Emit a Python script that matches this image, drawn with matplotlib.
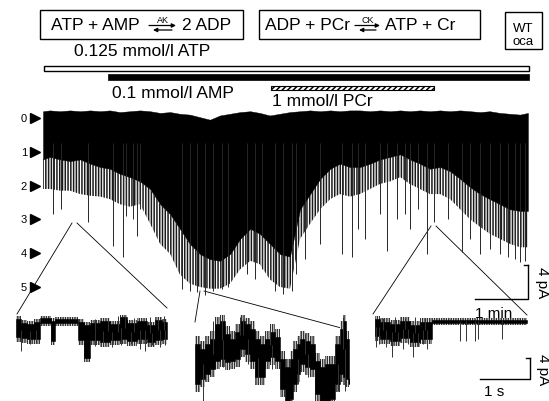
"""
KATP single-channel recording (WT oca): ATP + AMP / PCr application,
with three expanded stretches of the trace below.
Output: out.png
"""

import numpy as np
import matplotlib.pyplot as plt
from matplotlib.patches import Rectangle

plt.rcParams["font.family"] = ["Liberation Sans", "DejaVu Sans"]
plt.rcParams["hatch.linewidth"] = 1.1

W, H = 549, 402

# ── solution bars (time in min) ───────────────────────────────────────────────
sol_labels = ["0.125 mmol/l ATP", "0.1 mmol/l AMP", "1 mmol/l PCr"]
sol_start = [0.02, 1.23, 4.30]
sol_end = [9.17, 9.17, 7.38]

# ── main trace (time in min, current in pA, 0 = all channels closed) ─────────
t_main = [0.00, 0.13, 0.32, 0.51, 0.70, 0.89, 1.08, 1.26, 1.45, 1.64,
          1.83, 2.02, 2.21, 2.40, 2.58, 2.77, 2.96, 3.15, 3.34, 3.53,
          3.72, 3.91, 4.09, 4.28, 4.47, 4.66, 4.85, 5.04, 5.23, 5.42,
          5.60, 5.79, 5.98, 6.17, 6.36, 6.55, 6.74, 6.92, 7.11, 7.30,
          7.49, 7.68, 7.87, 8.06, 8.25, 8.43, 8.62, 8.81, 9.00, 9.15]
top_main = [0.8, 0.9, 0.8, 0.9, 0.8, 0.9, 0.8, 0.9, 0.7, 0.8,
            0.9, 0.8, 0.6, 0.7, 0.5, 0.4, 0.1, -0.2, 0.3, 0.5,
            0.7, 0.8, 0.6, 0.3, 0.5, 0.7, 0.8, 0.9, 0.8, 0.9,
            0.8, 0.9, 0.9, 0.8, 0.9, 0.8, 0.9, 0.8, 0.9, 0.8,
            0.9, 0.8, 0.9, 0.8, 0.7, 0.8, 0.6, 0.5, 0.4, 0.6]
# solid black part
core_main = [-4.9, -4.6, -4.9, -5.1, -4.9, -5.4, -5.8, -6.0, -6.6, -7.0,
             -7.5, -8.4, -10.2, -11.4, -13.1, -14.9, -16.1, -16.7, -16.9, -16.1,
             -14.3, -13.1, -13.7, -14.9, -16.1, -16.4, -10.8, -9.0, -7.2, -6.0,
             -5.4, -5.8, -5.8, -5.4, -4.9, -4.6, -4.3, -4.9, -5.4, -6.0,
             -5.8, -6.3, -7.2, -8.2, -9.0, -9.6, -10.2, -10.8, -11.0, -11.0]
# comb of openings below the solid part
fringe_main = [-8.4, -8.4, -8.6, -8.6, -9.0, -9.2, -9.3, -9.6, -10.2, -10.5,
               -10.2, -12.5, -14.9, -16.1, -18.5, -19.6, -20.0, -20.2, -20.2, -19.6,
               -17.9, -16.9, -17.3, -19.1, -20.0, -20.2, -14.3, -12.5, -10.8, -9.6,
               -9.0, -9.3, -9.0, -8.4, -7.8, -7.5, -7.0, -7.8, -8.4, -9.0,
               -9.0, -9.6, -10.8, -12.0, -12.9, -13.7, -14.3, -14.9, -15.3, -15.3]
spk_t = [0.18, 0.34, 0.85, 1.32, 1.50, 1.57, 1.70, 1.77, 1.83, 2.62,
         2.77, 2.91, 3.06, 3.21, 3.38, 3.49, 3.85, 4.00, 4.13, 4.38,
         4.53, 4.70, 4.77, 4.94, 5.23, 5.64, 5.83, 5.94, 6.08, 6.36,
         6.49, 6.68, 6.83, 6.92, 7.08, 7.25, 7.38, 7.64, 7.91, 8.06,
         8.25, 8.43, 8.62, 8.77, 8.91, 9.00, 9.09]
spk_i = [-11.4, -10.8, -12.3, -15.1, -16.4, -11.6, -12.0, -14.0, -10.8, -20.2,
         -20.5, -20.6, -21.0, -20.5, -20.2, -20.0, -18.5, -19.1, -17.9, -20.5,
         -20.8, -20.5, -18.5, -16.7, -14.9, -16.1, -16.4, -13.1, -14.3, -11.4,
         -15.7, -12.0, -11.4, -13.1, -10.8, -16.1, -12.3, -12.0, -15.9, -14.3,
         -16.1, -15.5, -16.1, -16.4, -16.7, -17.0, -16.9]
level_labels = ["0", "1", "2", "3", "4", "5"]
unit_pA = 4.0

# ── expanded stretches (time in s, current in pA) ────────────────────────────
# left stretch
tL = [0.00, 0.10, 0.22, 0.36, 0.48, 0.70, 0.78, 1.24, 1.36, 1.48,
      1.68, 1.88, 2.08, 2.22, 2.42, 2.62, 2.78, 2.92, 3.02]
topL = [0.19, -0.57, -0.76, -0.38, 0.38, -0.19, 0.19, -0.38, -0.95, -0.57,
        -0.19, -0.76, 0.57, -0.57, -0.19, -0.95, 0.0, -0.38, -0.38]
lowL = [-3.24, -3.43, -3.62, -3.62, -0.57, -4.0, -0.57, -3.81, -7.24, -3.81,
        -4.19, -3.81, -3.62, -4.0, -3.62, -4.19, -3.81, -3.62, -3.62]
noise_topL = [0.76, 0.0, -0.19, 0.19, 0.76, 0.38, 0.57, 0.19, -0.38, 0.0,
              0.38, -0.19, 0.95, 0.0, 0.38, -0.38, 0.57, 0.19, 0.19]
noise_lowL = [-4.19, -4.38, -4.57, -4.57, -1.14, -4.76, -1.14, -4.76, -8.0, -4.76,
              -5.14, -4.76, -4.57, -4.95, -4.57, -5.14, -4.76, -4.57, -4.57]
spkL_t = [0.10, 0.28, 0.40, 1.58, 1.74, 1.92, 2.10, 2.30, 2.48, 2.58,
          2.72, 2.88, 2.98, 1.58, 1.84, 2.04, 2.18, 2.36, 2.68, 2.84, 2.96]
spkL_i = [-5.9, -4.57, -4.38, -4.95, -4.57, -5.14, -4.76, -4.57, -5.52, -5.9,
          -4.76, -5.14, -4.76, 0.19, 0.38, 0.76, 0.57, 0.38, 0.57, 0.38, 0.76]

# middle stretch
tM = [0.04, 0.14, 0.24, 0.34, 0.44, 0.54, 0.64, 0.74, 0.84, 0.94,
      1.04, 1.14, 1.24, 1.34, 1.44, 1.54, 1.64, 1.74, 1.84, 1.94,
      2.00, 2.08, 2.14, 2.24, 2.34, 2.44, 2.54, 2.64, 2.74, 2.84,
      2.94, 3.00, 3.06, 3.12]
topM = [-4.57, -5.52, -4.57, -3.62, -0.76, -0.19, -2.67, -3.62, -2.29, -0.19,
        -0.76, -1.71, -3.62, -4.57, -3.62, -2.29, -3.24, -7.43, -8.95, -7.43,
        -5.52, -4.57, -3.62, -4.0, -4.57, -7.81, -8.95, -8.38, -8.38, -4.57,
        -1.71, -0.19, -3.62, -6.48]
lowM = [-12.19, -11.24, -10.29, -9.33, -7.81, -7.43, -8.0, -7.81, -7.43, -5.52,
        -6.48, -7.81, -10.86, -10.86, -7.81, -7.05, -7.81, -13.14, -15.43, -15.05,
        -12.19, -10.29, -8.38, -8.95, -9.33, -14.1, -15.43, -15.43, -15.05, -12.19,
        -10.29, -10.86, -11.24, -12.19]
noise_topM = [-3.05, -4.0, -3.05, -2.1, 0.57, 0.95, -1.14, -2.1, -0.76, 0.95,
              0.38, -0.19, -2.1, -3.05, -2.1, -0.76, -1.71, -5.9, -7.43, -5.9,
              -4.0, -3.05, -2.1, -2.48, -3.05, -6.29, -7.43, -6.86, -6.86, -3.05,
              -0.19, 0.95, -2.1, -4.95]
noise_lowM = [-13.7, -12.76, -11.8, -10.86, -9.33, -8.95, -9.52, -9.33, -8.95, -7.05,
              -8.0, -9.33, -12.38, -12.38, -9.33, -8.57, -9.33, -14.67, -15.5, -15.5,
              -13.7, -11.8, -9.9, -10.48, -10.86, -15.5, -15.5, -15.5, -15.5, -13.7,
              -11.8, -12.38, -12.76, -13.7]
spkM_t = [0.20, 0.60, 1.10, 1.30, 1.58, 2.10, 2.30, 2.90, 3.04,
          0.40, 0.58, 0.94, 1.00, 1.54, 2.24, 3.00]
spkM_i = [-15.4, -8.95, -8.38, -12.19, -9.33, -12.19, -10.86, -13.52, -13.52,
          -0.19, 0.57, 0.57, 0.19, -0.76, -2.67, 0.57]

# right stretch
tR = [0.04, 0.14, 0.34, 0.54, 0.74, 0.94, 1.18, 3.08]
topR = [0.19, -0.38, -0.76, -0.19, -0.95, -0.38, 0.0, 0.0]
lowR = [-3.05, -3.62, -4.0, -3.43, -4.19, -3.62, -0.57, -0.57]
noise_topR = [0.76, 0.38, 0.0, 0.57, -0.19, 0.38, 0.38, 0.38]
noise_lowR = [-4.0, -4.57, -4.95, -4.38, -5.14, -4.57, -0.95, -0.95]
spkR_t = [0.06, 0.12, 0.26, 0.38, 0.50, 0.60, 0.70, 0.80, 0.90, 1.00,
          1.08, 1.74, 1.86, 2.04, 2.10, 2.58,
          0.20, 0.44, 0.64, 0.84, 1.04]
spkR_i = [-5.14, -4.57, -5.14, -7.05, -4.76, -5.52, -4.57, -7.05, -4.95, -4.57,
          -5.52, -4.0, -4.0, -4.0, -3.62, -3.62,
          0.38, 0.57, 0.38, 0.57, 0.38]


def fig_axes(x0, y0, x1, y1):
    """axes from pixel box (top-left origin)"""
    return fig.add_axes([x0 / W, 1 - y1 / H, (x1 - x0) / W, (y1 - y0) / H])


fig = plt.figure(figsize=(W / 100, H / 100), dpi=100)

# overlay in pixel units for labels, boxes and connector lines
ov = fig_axes(0, 0, W, H)
ov.set_xlim(0, W)
ov.set_ylim(H, 0)
ov.axis("off")

# reaction boxes
ov.add_patch(Rectangle((40, 10.5), 203, 29.5, fill=False, lw=1.0, color="k"))
ov.add_patch(Rectangle((259, 10.5), 221, 29.5, fill=False, lw=1.0, color="k"))
ov.add_patch(Rectangle((505, 13), 37, 37, fill=False, lw=1.0, color="k"))
fs = 12.5
ov.text(51, 26, "ATP + AMP", fontsize=fs, va="center", ha="left")
ov.text(182, 26, "2 ADP", fontsize=fs, va="center", ha="left")
ov.text(265, 26, "ADP + PCr", fontsize=fs, va="center", ha="left")
ov.text(385, 26, "ATP + Cr", fontsize=fs, va="center", ha="left")
ov.text(523.5, 29, "WT", fontsize=9.5, ha="center", va="center")
ov.text(523.5, 42, "oca", fontsize=9.5, ha="center", va="center")
for x0, x1, lab in [(149, 176, "AK"), (355, 380, "CK")]:
    ov.text((x0 + x1) / 2, 20.5, lab, fontsize=6.5, ha="center", va="center")
    ov.annotate("", xy=(x1, 26.5), xytext=(x0, 26.5),
                arrowprops=dict(arrowstyle="-|>", lw=0.9, color="k",
                                mutation_scale=6, shrinkA=0, shrinkB=0))
    ov.annotate("", xy=(x0 + 4, 31), xytext=(x1 - 4, 31),
                arrowprops=dict(arrowstyle="-|>", lw=0.9, color="k",
                                mutation_scale=6, shrinkA=0, shrinkB=0))

ov.text(74, 52, sol_labels[0], fontsize=fs, va="center", ha="left")
ov.text(112, 93, sol_labels[1], fontsize=fs, va="center", ha="left")
ov.text(272, 102, sol_labels[2], fontsize=fs, va="center", ha="left")

# connector lines main trace -> expanded stretches
for (xa, ya), (xb, yb) in [((72, 224), (17, 315)), ((77, 224), (167, 309)),
                           ((200, 292), (195, 323)), ((204, 292), (345, 330)),
                           ((431, 227), (373, 315)), ((436, 227), (527, 316))]:
    ov.plot([xa, xb], [ya, yb], color="k", lw=0.6)

# solution bars
axb = fig_axes(43, 60, 530.6, 100)
axb.set_xlim(0, 9.2)
axb.set_ylim(40, 0)
axb.axis("off")
axb.barh(9.25, sol_end[0] - sol_start[0], left=sol_start[0], height=5.5,
         color="white", edgecolor="k", lw=1.0)
axb.barh(18, sol_end[1] - sol_start[1], left=sol_start[1], height=6,
         color="k", edgecolor="k", lw=0.5)
axb.barh(28.75, sol_end[2] - sol_start[2], left=sol_start[2], height=3.5,
         color="white", edgecolor="k", lw=0.8, hatch="//////")

# main trace
ax = fig_axes(43, 102.1, 530.6, 304.9)
ax.set_xlim(0, 9.2)
ax.set_ylim(-22, 2)
ax.axis("off")
ax.fill_between(t_main, core_main, fringe_main, facecolor="white",
                edgecolor="0.1", hatch="||||||", lw=0)
ax.vlines(spk_t, -3, spk_i, color="0.15", lw=0.7)
ax.fill_between(t_main, top_main, core_main, color="k", lw=0.3)
for k, lab in enumerate(level_labels):
    y = -k * unit_pA
    ax.plot(-0.16, y, marker=">", color="k", ms=6.5, clip_on=False)
    ax.text(-0.30, y, lab, fontsize=8, ha="right", va="center")
# scale bar 1 min / 4 pA
ax.plot([9.15, 9.15, 8.15], [-17.4, -21.4, -21.4], color="k", lw=1.0, clip_on=False)
ax.plot([9.07, 9.15], [-17.4, -17.4], color="k", lw=1.0, clip_on=False)
ax.text(8.5, -23.1, "1 min", fontsize=11, ha="center", va="center")
ax.text(9.42, -19.4, "4 pA", fontsize=11, ha="center", va="center", rotation=-90)

# expanded stretches
insets = [
    ((16, 168), tL, topL, lowL, noise_topL, noise_lowL, spkL_t, spkL_i),
    ((193, 350), tM, topM, lowM, noise_topM, noise_lowM, spkM_t, spkM_i),
    ((373, 528), tR, topR, lowR, noise_topR, noise_lowR, spkR_t, spkR_i),
]
for (x0, x1), tt, tp, lo, ntp, nlo, st, si in insets:
    a = fig_axes(x0, 313.1, x1, 402.4)
    a.set_xlim(0, (x1 - x0) / 50)
    a.set_ylim(-15.5, 1.5)
    a.axis("off")
    a.fill_between(tt, ntp, nlo, step="post", facecolor="white",
                   edgecolor="0.2", hatch="|||||||", lw=0)
    a.fill_between(tt, tp, lo, step="post", color="k", lw=0.4)
    mid = (np.array(tp) + np.array(lo)) / 2
    base = mid[np.searchsorted(tt, st, side="right") - 1]
    a.vlines(st, base, si, color="0.2", lw=0.7)
    last = a

# scale bar 1 s / 4 pA (right stretch units)
last.plot([3.14, 3.14, 2.14], [-7.2, -11.2, -11.2], color="k", lw=1.0, clip_on=False)
last.plot([3.06, 3.14], [-7.2, -7.2], color="k", lw=1.0, clip_on=False)
last.text(2.42, -13.5, "1 s", fontsize=11, ha="center", va="center")
last.text(3.4, -9.2, "4 pA", fontsize=11, ha="center", va="center", rotation=-90)

plt.savefig("out.png", dpi=100)
